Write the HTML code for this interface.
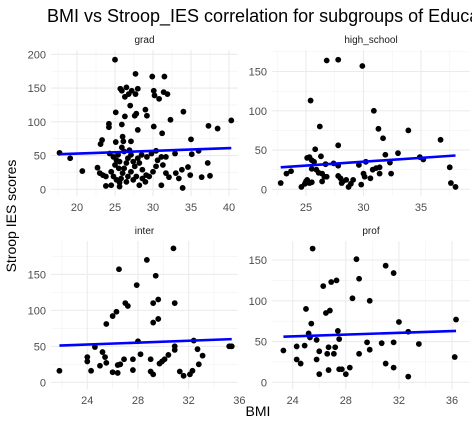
<!DOCTYPE html>
<html><head><meta charset="utf-8"><style>
body{margin:0;background:#fff;width:472px;height:425px;overflow:hidden;font-family:"Liberation Sans",sans-serif}
svg text{font-family:"Liberation Sans",sans-serif}
</style></head><body>
<svg id="chart" width="472" height="425" xmlns="http://www.w3.org/2000/svg">
<text x="47" y="22" font-size="18" fill="#000">BMI vs Stroop_IES correlation for subgroups of Education</text>
<text transform="translate(16,216) rotate(-90)" text-anchor="middle" font-size="14" fill="#000">Stroop IES scores</text>
<text x="258" y="416" text-anchor="middle" font-size="14" fill="#000">BMI</text>
</svg>
<script>
const gradBMI=[25,27.7,29.9,31.5,25.7,25.9,26.5,27.2,27.7,28,26.3,26.8,30.1,30.2,30.8,31.4,31.9,27,29,29.2,27.6,27.8,26.3,25.1,34,32.3,25.9,24.2,24.2,28,30.1,31.2,37.3,38.5,40.3,35,26,23.3,23.1,25.1,26.1,27.1,17.7,19.1,20.7,22.7,23,23.4,23.8,23.8,24.5,35.1,36,37.2,36.4,37.5,34.9,34.6,33.9,33.4,33.8,33,32.9,31.1,28.2,29,31.7,32.1,30,30.4,30.6,31.1,31.7,31.3,28.2,28.6,29.1,29.5,29.8,30.4,24.3,24.8,25.2,25,25.5,24.5,24.8,25.2,25.6,25.8,26,26.2,26.5,26.7,26.2,25.9,26.9,27.1,27.4,27.6,27.1,26.7,27.4,27.8,28,28.5,25.6,25.4,26.5,25.6,28.6,29.2];
const gradIES=[192,171,167,167,149,146,151,146,141,149,137,141,146,139,134,144,141,124,118,109,109,112,108,114,115,103,96,97,92,88,93,83,94,90,102,74,78,73,67,70,71,71,54,46,27,32,24,21,19,5,6,52,57,39,18,20,21,33,2,16,29,24,53,6,6,11,24,18,26,34,43,48,48,36,39,29,21,19,53,57,53,48,43,36,31,26,19,14,10,16,24,31,39,46,56,62,58,51,41,34,26,19,14,19,46,51,41,51,11,4,16,48];
const hsBMI=[22.8,23.3,23.7,24.6,24.9,25,25.1,25.3,25.5,25.4,25.1,25.3,25.5,25.7,25.8,25.5,25.9,26.1,26.2,26.3,26.4,26.6,26.4,26.8,26.7,26.8,27.4,27.8,27.8,27.8,27.8,28,28.1,28.2,28.5,28.7,28.9,29.1,29.6,29.8,29.9,30,30.1,30.2,30.6,30.8,30.9,31.1,31.3,31.4,31.4,31.7,31.9,32.3,32.4,33,33.9,34.9,35.2,36.7,37.5,37.6,38];
const hsIES=[8,20,23,3,7,10,12,8,9,113,40,41,37,35,51,26,25,21,80,42,20,16,10,16,32,164,33,30,56,165,17,14,8,10,12,3,7,12,31,6,157,20,16,35,14,25,100,27,77,20,28,65,44,34,20,46,75,41,38,63,28,8,3];
const interBMI=[21.8,24,24,24.3,24.6,25,25.2,25.4,25.5,25.5,26,26.3,26,26.4,26.4,26.5,26.6,26.9,27,27.2,27.6,27.6,27.9,28,28.2,28.7,29,29,29.2,29.2,29.2,29.4,29.6,29.6,29.7,29.9,30.1,30.4,30.8,30.9,30.9,30.9,31.3,31.6,32.1,32.3,32.4,32.7,32.8,33.1,35.2,35.4];
const interIES=[16,35,29,16,49,23,42,35,81,27,92,98,14,13,24,157,25,32,110,106,32,17,135,57,39,170,32,15,11,110,83,148,115,88,26,29,32,38,186,110,50,45,15,9,11,16,58,46,25,37,50,50];
const profBMI=[23.3,24.3,24.3,24.6,24.9,25,25.2,25.3,25.4,25.5,25.8,25.8,26,26,26.3,26.5,26.6,26.7,26.7,26.8,26.9,27.1,27.2,27.3,27.4,27.5,27.5,27.7,28,28.3,28.5,28.8,29,29,29.6,29.8,29.8,30.7,31,31,31.6,31.6,31.6,32,32.7,32.7,33.5,36.2,36.3];
const profIES=[39,44,28,23,45,90,60,55,72,164,52,28,38,10,118,85,35,43,15,88,123,35,43,125,63,53,16,16,10,18,103,151,127,35,49,100,40,48,143,23,18,134,49,74,62,7,47,31,77];
const fitIntercept=[52,28,51,56];
const fitSlope=[0.4,0.99,0.66,0.54];
const facetNames=["grad","high_school","inter","prof"];
const xTicks=[[20,25,30,35,40],[25,30,35],[24,28,32,36],[24,28,32,36]];
const yTicks=[[0,50,100,150,200],[0,50,100,150],[0,50,100,150],[0,50,100,150]];
const xs=[gradBMI,hsBMI,interBMI,profBMI], ys=[gradIES,hsIES,interIES,profIES];
// layout: panel rects and scale anchors
const P=[
 {x0:51,x1:238,y0:50,y1:196,ax:77,av:20,kx:7.6,ay:189.3,ky:0.675,sy:43},
 {x0:272,x1:470,y0:50,y1:196,ax:306,av:25,kx:11.5,ay:189.3,ky:0.7853,sy:43},
 {x0:51,x1:238,y0:241,y1:389,ax:87.3,av:24,kx:12.67,ay:382.3,ky:0.72,sy:234},
 {x0:272,x1:470,y0:241,y1:389,ax:292.7,av:24,kx:13.28,ay:382.3,ky:0.8153,sy:234}];
const svg=document.getElementById('chart'),NS='http://www.w3.org/2000/svg';
function mk(t,a,p){const e=document.createElementNS(NS,t);for(const k in a)e.setAttribute(k,a[k]);(p||svg).appendChild(e);return e;}
P.forEach((p,i)=>{
 const sx=v=>p.ax+(v-p.av)*p.kx, sy=v=>p.ay-v*p.ky;
 const g=mk('g',{});
 
 
 const cl=mk('clipPath',{id:'c'+i},g);mk('rect',{x:p.x0,y:p.y0,width:p.x1-p.x0,height:p.y1-p.y0},cl);
 const gr=mk('g',{'clip-path':'url(#c'+i+')'},g);
 const xt=xTicks[i],yt=yTicks[i];
 const dx=xt[1]-xt[0],dy=yt[1]-yt[0];
 for(let k=-1;k<=xt.length;k++){const v=xt[0]+(k+0.5)*dx;const X=sx(v);mk('line',{x1:X,x2:X,y1:p.y0,y2:p.y1,stroke:'#f2f2f2','stroke-width':0.6},gr);}
 for(let k=-1;k<=yt.length;k++){const v=yt[0]+(k+0.5)*dy;const Y=sy(v);mk('line',{x1:p.x0,x2:p.x1,y1:Y,y2:Y,stroke:'#f2f2f2','stroke-width':0.6},gr);}
 xt.forEach(v=>{const X=sx(v);mk('line',{x1:X,x2:X,y1:p.y0,y2:p.y1,stroke:'#ebebeb','stroke-width':1.1},gr);
  const t=mk('text',{x:X,y:p.y1+15,'text-anchor':'middle','font-size':11,fill:'#4d4d4d'});t.textContent=v;
  
  });
 yt.forEach(v=>{const Y=sy(v);if(Y<p.y0-2)return;mk('line',{x1:p.x0,x2:p.x1,y1:Y,y2:Y,stroke:'#ebebeb','stroke-width':1.1},gr);
  const t=mk('text',{x:p.x0-5,y:Y+4,'text-anchor':'end','font-size':11,fill:'#4d4d4d'});t.textContent=v;
  
  });
 const st=mk('text',{x:(p.x0+p.x1)/2,y:p.sy,'text-anchor':'middle','font-size':10,fill:'#1a1a1a'});st.textContent=facetNames[i];
 
 
 xs[i].forEach((v,j)=>{const c=mk('circle',{cx:sx(v),cy:sy(ys[i][j]),r:2.9,fill:'#000'},gr);
  
  });
 const mn=Math.min(...xs[i]),mx=Math.max(...xs[i]);
 const fl=mk('line',{x1:sx(mn),y1:sy(fitIntercept[i]),x2:sx(mx),y2:sy(fitIntercept[i]+fitSlope[i]*(mx-mn)),stroke:'#0000ff','stroke-width':2.6},gr);
 
 
});
</script>
</body></html>
